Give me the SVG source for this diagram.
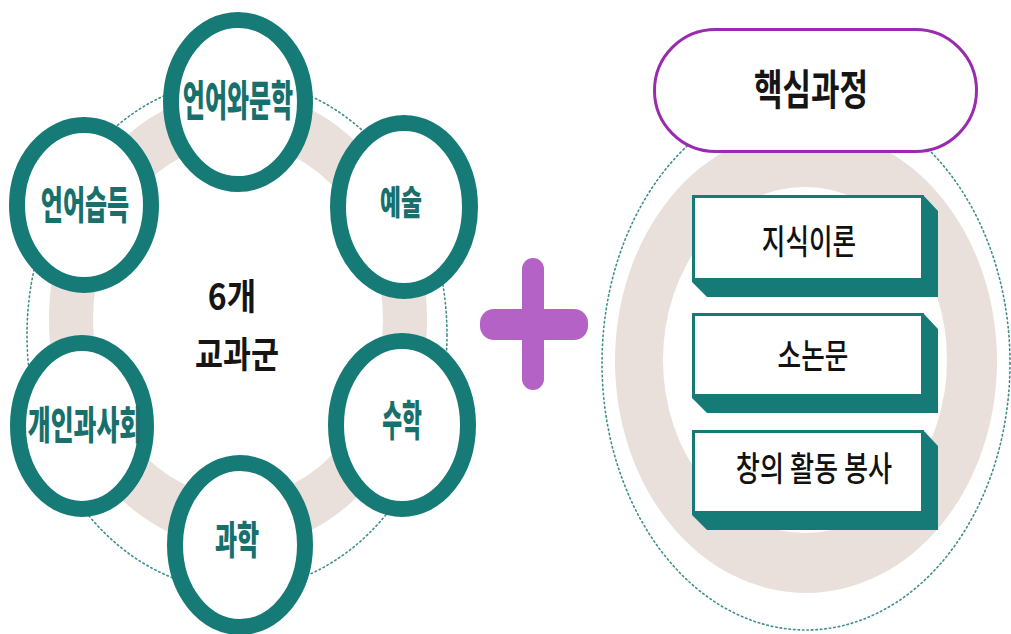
<svg xmlns="http://www.w3.org/2000/svg" width="1011" height="634" viewBox="0 0 1011 634">
<style>
.ring{fill:#fff;stroke:#167B76;stroke-width:16}
.ct{font-family:"Noto Sans CJK KR","Noto Sans",sans-serif;font-weight:900;font-size:30px;fill:#17706C;text-anchor:middle}
.bt{font-family:"Noto Sans CJK KR","Noto Sans",sans-serif;font-weight:500;font-size:27px;fill:#111;text-anchor:middle}
.mt{font-family:"Noto Sans CJK KR","Noto Sans",sans-serif;font-weight:700;font-size:32px;fill:#151515;text-anchor:middle}
.dot{fill:none;stroke:#3E8E8A;stroke-width:1.6;stroke-dasharray:1.5 3;stroke-linecap:round}
.beige{fill:#E9E0DB;fill-rule:evenodd}
.ext{fill:#167B76}
.face{fill:#fff;stroke:#167B76;stroke-width:3}
</style>
<rect width="1011" height="634" fill="#fff"/>
<g id="connectors">
<ellipse class="dot" cx="237" cy="335" rx="210" ry="255"/>
<ellipse class="dot" cx="806" cy="363" rx="204" ry="267"/>
</g>
<g id="background-rings">
<path class="beige" d="M49,320 a189,228 0 1,0 378,0 a189,228 0 1,0 -378,0 Z M93,320 a145,177 0 1,0 290,0 a145,177 0 1,0 -290,0 Z"/>
<path class="beige" d="M615,361 a191,232 0 1,0 382,0 a191,232 0 1,0 -382,0 Z M663,360 a142,173 0 1,0 284,0 a142,173 0 1,0 -284,0 Z"/>
</g>
<g id="center-label">
<text class="mt" transform="translate(232,297) scale(1,1.15)" y="11">6개</text>
<text class="mt" transform="translate(237,355) scale(0.95,1.15)" y="11">교과군</text>
</g>
<g id="node-language-literature">
<ellipse class="ring" cx="238" cy="102" rx="67" ry="82"/>
<text class="ct" transform="translate(238,100) scale(0.8,1.42)" y="11">언어와문학</text>
</g>
<g id="node-language-acquisition">
<ellipse class="ring" cx="84" cy="205" rx="67" ry="80"/>
<text class="ct" transform="translate(85,205) scale(0.8,1.3)" y="11">언어습득</text>
</g>
<g id="node-arts">
<ellipse class="ring" cx="404" cy="207" rx="66" ry="84"/>
<text class="ct" transform="translate(401,202) scale(0.76,1.15)" y="11">예술</text>
</g>
<g id="node-individuals-societies">
<ellipse class="ring" cx="82" cy="426" rx="64" ry="83"/>
<text class="ct" transform="translate(85,425) scale(0.83,1.3)" y="11">개인과사회</text>
</g>
<g id="node-mathematics">
<ellipse class="ring" cx="402" cy="425" rx="66" ry="84"/>
<text class="ct" transform="translate(402,421) scale(0.72,1.4)" y="11">수학</text>
</g>
<g id="node-sciences">
<ellipse class="ring" cx="240" cy="545" rx="65" ry="82"/>
<text class="ct" transform="translate(237,540) scale(0.8,1.3)" y="11">과학</text>
</g>
<g id="plus">
<rect x="522" y="258" width="22" height="132" rx="11" fill="#B462C6"/>
<rect x="480" y="309" width="108" height="31" rx="14" fill="#B462C6"/>
</g>
<g id="node-core">
<rect x="654.5" y="29.5" width="322" height="122" rx="61" fill="#fff" stroke="#9A2BB0" stroke-width="3"/>
<text class="mt" transform="translate(811,91) scale(0.97,1.3)" y="11">핵심과정</text>
</g>
<g id="node-tok">
<polygon class="ext" points="692,195 923,195 938,211 938,297 707,297 692,282"/>
<rect class="face" x="693.5" y="196.5" width="229" height="83"/>
<text class="bt" transform="translate(809,241) scale(0.95,1.25)" y="10">지식이론</text>
</g>
<g id="node-ee">
<polygon class="ext" points="692,313 923,313 938,329 938,413 707,413 692,398"/>
<rect class="face" x="693.5" y="314.5" width="229" height="81"/>
<text class="bt" transform="translate(813,355) scale(0.95,1.25)" y="10">소논문</text>
</g>
<g id="node-cas">
<polygon class="ext" points="692,430 923,430 938,446 938,530 707,530 692,515"/>
<rect class="face" x="693.5" y="431.5" width="229" height="81"/>
<text class="bt" transform="translate(814,468) scale(0.97,1.25)" y="10">창의 활동 봉사</text>
</g>
</svg>
